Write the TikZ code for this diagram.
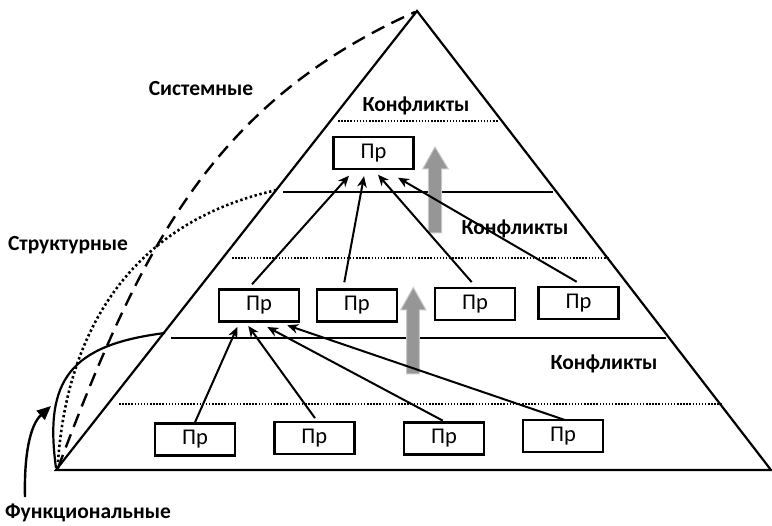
\documentclass[tikz,border=0pt]{standalone}
\usepackage{fontspec}
\setmainfont{Carlito}
\usetikzlibrary{arrows.meta}
\begin{document}
\begin{tikzpicture}[x=1pt,y=-1pt,
  box/.style={draw,line width=2.4pt,minimum width=80pt,minimum height=32pt,inner sep=0pt,font=\fontsize{22.5}{22.5}\selectfont},
  lbl/.style={font=\fontsize{21.5}{21.5}\selectfont\bfseries,inner sep=0pt},
  arr/.style={line width=2pt,-{Stealth[length=11pt,width=9.5pt,inset=3.5pt]}},
  level/.style={line width=2.5pt},
  dotline/.style={line width=1.5pt,dash pattern=on 1.5pt off 1.6pt},
  bigarrow/.style={fill={rgb,255:red,150;green,150;blue,150},draw={rgb,255:red,200;green,200;blue,200},line width=1pt}]
\useasboundingbox (0,0) rectangle (772,526);
% pyramid
\coordinate (L) at (56,470);
\coordinate (A) at (417,11);
\coordinate (R) at (771,470);
\draw[line width=2.2pt,line join=miter] (L) -- (A) -- (R) -- cycle;
% level lines
\coordinate (s1a) at (283,192);
\coordinate (s1b) at (553,192);
\coordinate (s2a) at (171,338);
\coordinate (s2b) at (666,338);
\draw[level] (s1a) -- (s1b);
\draw[level] (s2a) -- (s2b);
\coordinate (d1a) at (338,121);
\coordinate (d1b) at (498,121);
\coordinate (d2a) at (232,258);
\coordinate (d2b) at (609,258);
\coordinate (d3a) at (119,404);
\coordinate (d3b) at (722,404);
\draw[dotline] (d1a) -- (d1b);
\draw[dotline] (d2a) -- (d2b);
\draw[dotline] (d3a) -- (d3b);
% gray arrows
\path[bigarrow] (428.3,233) -- (428.3,169) -- (422.7,169) -- (435,147) -- (448.3,169) -- (441.7,169) -- (441.7,233) -- cycle;
\path[bigarrow] (406.7,374) -- (406.7,310) -- (400.7,310) -- (413.3,287.5) -- (426,310) -- (419.3,310) -- (419.3,374) -- cycle;
% boxes
\node[box] (t) at (373.5,153) {Пр};
\node[box] (b1) at (259,305.5) {Пр};
\node[box] (b2) at (356.7,305.5) {Пр};
\node[box] (b3) at (475,304) {Пр};
\node[box] (b4) at (578.5,303) {Пр};
\node[box] (c1) at (195,439.5) {Пр};
\node[box] (c2) at (314.3,438) {Пр};
\node[box] (c3) at (444,438.5) {Пр};
\node[box] (c4) at (563,436) {Пр};
% arrows level 2 -> top
\draw[arr] ([xshift=-7pt,yshift=4pt]b1.north) -- ([xshift=-24.5pt,yshift=-5.5pt]t.south);
\draw[arr] ([xshift=-12.4pt,yshift=6pt]b2.north) -- ([xshift=-9.5pt,yshift=-6pt]t.south);
\draw[arr] ([xshift=-3.3pt,yshift=4.7pt]b3.north) -- ([xshift=4.5pt,yshift=-4.5pt]t.south);
\draw[arr] ([xshift=-1.8pt,yshift=4pt]b4.north) -- ([xshift=24.5pt,yshift=-7.5pt]t.south);
% arrows level 3 -> b1
\draw[arr] (c1.north) -- ([xshift=-21.7pt,yshift=-4.3pt]b1.south);
\draw[arr] ([xshift=0.7pt,yshift=2.7pt]c2.north) -- ([xshift=-10.7pt,yshift=-3.3pt]b1.south);
\draw[arr] ([xshift=-1.3pt,yshift=0.7pt]c3.north) -- ([xshift=8.3pt,yshift=-4.3pt]b1.south);
\draw[arr] ([xshift=1.3pt,yshift=-1pt]c4.north) -- ([xshift=28.3pt,yshift=-2.6pt]b1.south);
% labels
\node[lbl] (k1) at (416,106) {Конфликты};
\node[lbl] (k2) at (515,229) {Конфликты};
\node[lbl] (k3) at (604,364) {Конфликты};
\node[lbl] (sys) at (201,89) {Системные};
\node[lbl] (str) at (68,245) {Структурные};
\node[lbl] (fun) at (88,513) {Функциональные};
% left curves
\coordinate (v1) at (58,468);
\coordinate (v2) at (58,462);
\coordinate (v3) at (56,468);
\coordinate (e1) at (415,12);
\coordinate (e2) at (277,190);
\coordinate (e3) at (165,333);
\draw[line width=2.4pt,dash pattern=on 14pt off 8pt] (v1) .. controls (140,250) and (212,103) .. (e1);
\draw[line width=2.6pt,dash pattern=on 2.4pt off 2.6pt] (v2) .. controls (68,320) and (140,220) .. (e2);
\draw[line width=2.2pt] (v3) .. controls (44,380) and (70,345) .. (e3);
\coordinate (fstart) at (25,497);
\coordinate (ftip) at (51,406);
\draw[line width=2.4pt,-{Triangle[length=14pt,width=12pt]}] (fstart) .. controls (24,455) and (30,425) .. (ftip);
\end{tikzpicture}
\end{document}
